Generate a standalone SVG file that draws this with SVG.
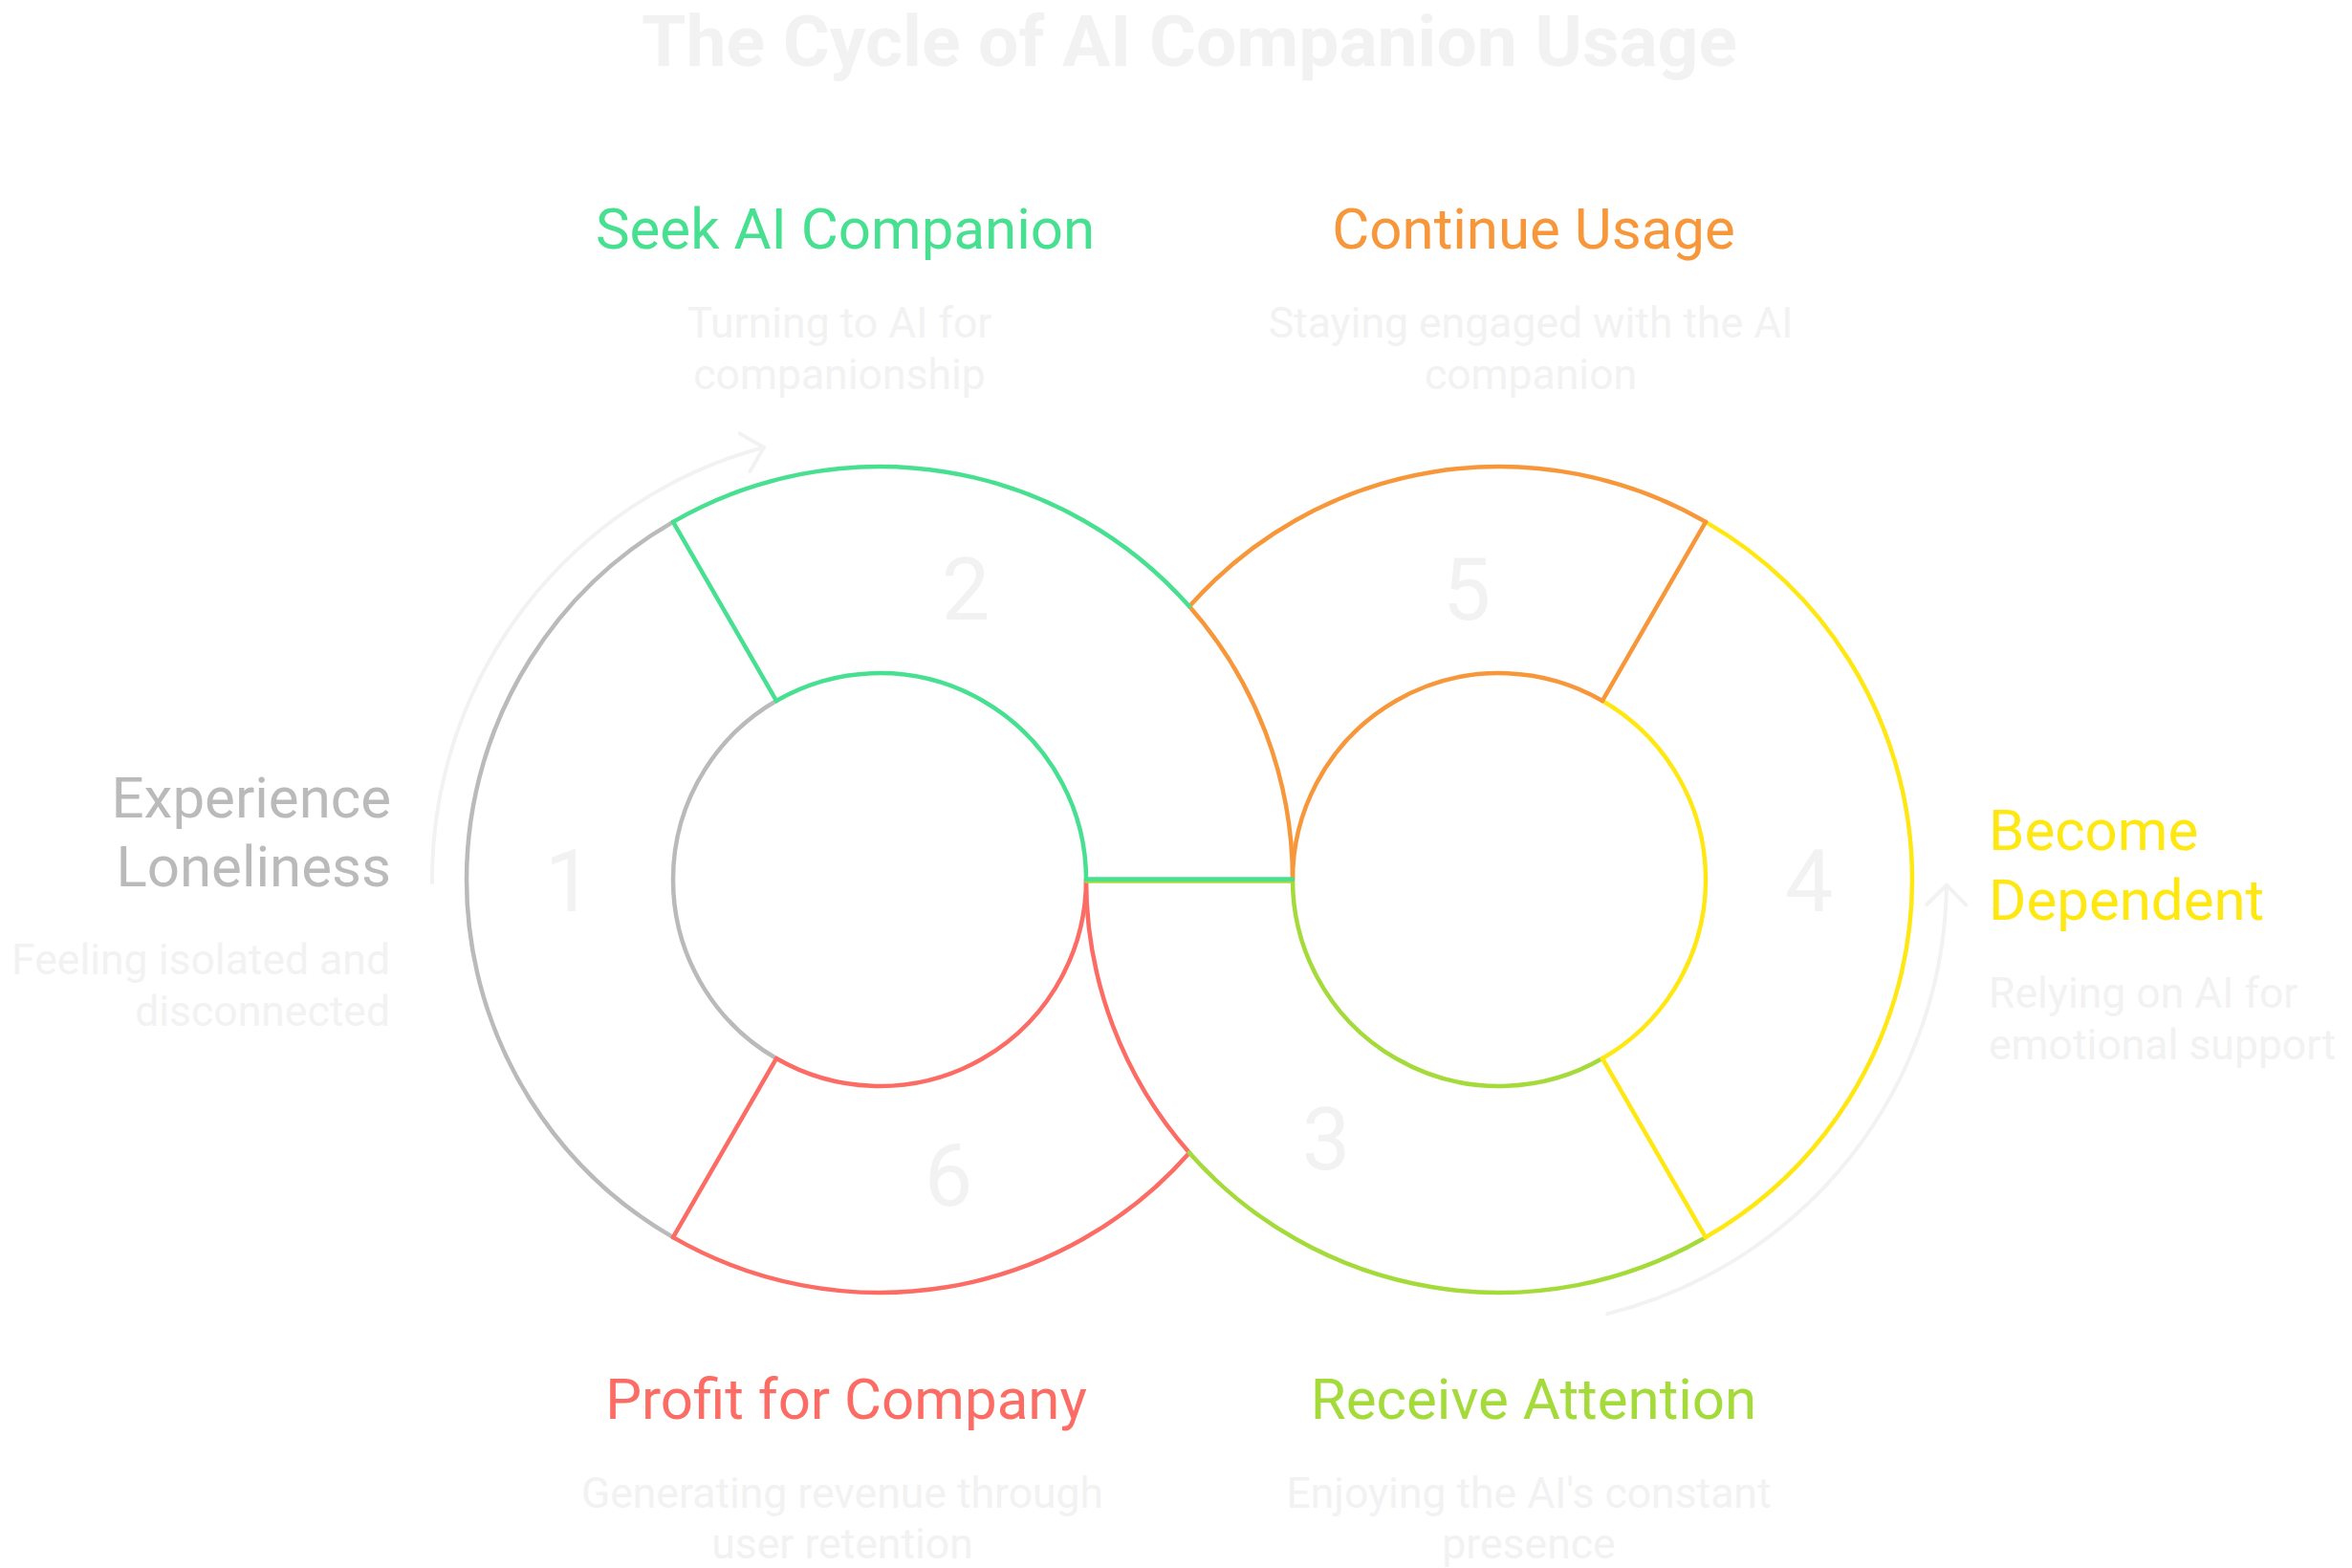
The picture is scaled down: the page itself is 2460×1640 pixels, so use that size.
<svg xmlns="http://www.w3.org/2000/svg" width="2460" height="1640" viewBox="0 0 2460 1640">
  <defs>
    <style>
      .t{font-family:Roboto,"Liberation Sans",Arial,sans-serif}
      .title{font-size:75px;font-weight:700;fill:#F2F2F2;text-anchor:middle}
      .h{font-size:60px}
      .d{font-size:44.5px;fill:#F2F2F2}
      .num{font-size:90px;fill:#F2F2F2;text-anchor:middle}
      .s{fill:none;stroke-width:4.5;stroke-linecap:round;stroke-linejoin:round}
      .gray{stroke:#BABABA}
      .green{stroke:#47E091}
      .orange{stroke:#F7973A}
      .yellow{stroke:#FFE812}
      .lime{stroke:#A4DB3A}
      .red{stroke:#FC6B64}
      .arrow{fill:none;stroke:#F2F2F2;stroke-width:4;stroke-linecap:round}
    </style>
    <marker id="arr" markerUnits="userSpaceOnUse" viewBox="-24 -24 28 48" markerWidth="28" markerHeight="48" refX="0" refY="0" orient="auto" overflow="visible">
      <path d="M -20.5 -20.5 L 0 0 L -20.5 20.5" fill="none" stroke="#F2F2F2" stroke-width="4" stroke-linecap="round" stroke-linejoin="round"/>
    </marker>
  </defs>
  <rect width="2460" height="1640" fill="#FFFFFF"/>
  <text class="t title" x="1244" y="69">The Cycle of AI Companion Usage</text>

  <g id="connectors">
    <path class="arrow" d="M 452 923 A 468 468 0 0 1 798.9 467.9" marker-end="url(#arr)"/>
    <path class="arrow" d="M 1681.2 1374.1 A 468 468 0 0 0 2036 925.7" marker-end="url(#arr)"/>
  </g>

  <g id="step1">
    <path class="s gray" d="M 704 545.88 A 432 432 0 0 0 704 1294.12"/>
    <path class="s gray" d="M 812 732.94 A 216 216 0 0 0 812 1107.06"/>
    <text class="t num" x="595" y="953">1</text>
    <text class="t h" x="409" y="855" text-anchor="end" fill="#BABABA">Experience</text>
    <text class="t h" x="409" y="927" text-anchor="end" fill="#BABABA">Loneliness</text>
    <text class="t d" x="408" y="1019" text-anchor="end">Feeling isolated and</text>
    <text class="t d" x="408" y="1073" text-anchor="end">disconnected</text>
  </g>

  <g id="step6">
    <path class="s red" d="M 704 1294.12 A 432 432 0 0 0 1244 1205.7"/>
    <path class="s red" d="M 812 1107.06 A 216 216 0 0 0 1136 920"/>
    <path class="s red" d="M 1244 1205.7 A 432 432 0 0 1 1136 920"/>
    <path class="s red" d="M 704 1294.12 L 812 1107.06"/>
    <text class="t num" x="992" y="1261">6</text>
    <text class="t h" x="885" y="1484" text-anchor="middle" fill="#FC6B64">Profit for Company</text>
    <text class="t d" x="881" y="1577" text-anchor="middle">Generating revenue through</text>
    <text class="t d" x="881" y="1630" text-anchor="middle">user retention</text>
  </g>

  <g id="step3">
    <path class="s lime" d="M 1784 1294.12 A 432 432 0 0 1 1244 1205.7"/>
    <path class="s lime" d="M 1676 1107.06 A 216 216 0 0 1 1352 920"/>
    <path class="s lime" d="M 1136 921.5 L 1352 921.5"/>
    <text class="t num" x="1387" y="1223">3</text>
    <text class="t h" x="1604" y="1484" text-anchor="middle" fill="#A4DB3A">Receive Attention</text>
    <text class="t d" x="1599" y="1577" text-anchor="middle">Enjoying the AI's constant</text>
    <text class="t d" x="1599" y="1630" text-anchor="middle">presence</text>
  </g>

  <g id="step4">
    <path class="s yellow" d="M 1784 545.88 A 432 432 0 0 1 1784 1294.12"/>
    <path class="s yellow" d="M 1676 732.94 A 216 216 0 0 1 1676 1107.06"/>
    <path class="s yellow" d="M 1784 1294.12 L 1676 1107.06"/>
    <text class="t num" x="1892" y="953">4</text>
    <text class="t h" x="2080" y="889" fill="#FFE812">Become</text>
    <text class="t h" x="2080" y="962" fill="#FFE812">Dependent</text>
    <text class="t d" x="2080" y="1054">Relying on AI for</text>
    <text class="t d" x="2080" y="1108">emotional support</text>
  </g>

  <g id="step5">
    <path class="s orange" d="M 1244 634.3 A 432 432 0 0 1 1784 545.88"/>
    <path class="s orange" d="M 1352 920 A 216 216 0 0 1 1676 732.94"/>
    <path class="s orange" d="M 1244 634.3 A 432 432 0 0 1 1352 920"/>
    <path class="s orange" d="M 1784 545.88 L 1676 732.94"/>
    <text class="t num" x="1534" y="648">5</text>
    <text class="t h" x="1604" y="260" text-anchor="middle" fill="#F7973A">Continue Usage</text>
    <text class="t d" x="1601" y="353" text-anchor="middle">Staying engaged with the AI</text>
    <text class="t d" x="1601" y="407" text-anchor="middle">companion</text>
  </g>

  <g id="step2">
    <path class="s green" d="M 704 545.88 A 432 432 0 0 1 1244 634.3"/>
    <path class="s green" d="M 812 732.94 A 216 216 0 0 1 1136 920"/>
    <path class="s green" d="M 704 545.88 L 812 732.94"/>
    <path class="s green" d="M 1136 919.5 L 1352 919.5"/>
    <text class="t num" x="1010" y="648">2</text>
    <text class="t h" x="884" y="260" text-anchor="middle" fill="#47E091">Seek AI Companion</text>
    <text class="t d" x="878" y="353" text-anchor="middle">Turning to AI for</text>
    <text class="t d" x="878" y="407" text-anchor="middle">companionship</text>
  </g>
</svg>
